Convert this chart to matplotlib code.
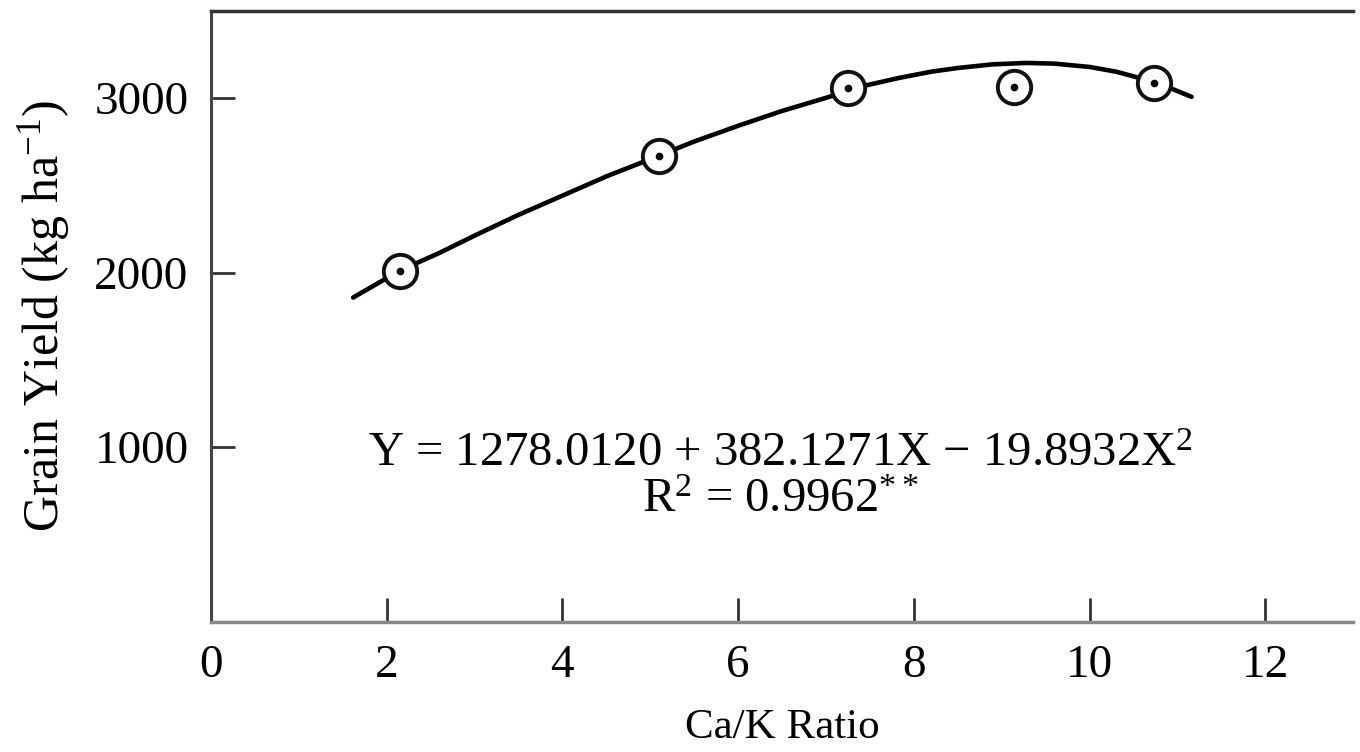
import numpy as np
import matplotlib
matplotlib.use("Agg")
from matplotlib import pyplot as plt

plt.rcParams['font.family'] = ['Liberation Serif', 'DejaVu Serif']
plt.rcParams['mathtext.fontset'] = 'custom'
plt.rcParams['mathtext.rm'] = 'Liberation Serif'
plt.rcParams['mathtext.it'] = 'Liberation Serif'

# observed points
ratio = [2.15, 5.10, 7.25, 9.14, 10.73]
grain_yield = [2010, 2669, 3055, 3063, 3086]

# fitted curve
curve_x = [1.62, 2.15, 2.6, 3.0, 3.5, 4.0, 4.5, 5.1, 5.5, 6.0, 6.5, 7.0, 7.4,
           7.83, 8.2, 8.5, 8.9, 9.28, 9.6, 10.0, 10.3, 10.48, 10.8, 11.16]
curve_y = [1857, 2011, 2112, 2211, 2330, 2440, 2550, 2669, 2750, 2840, 2925, 3000, 3065,
           3114, 3150, 3171, 3192, 3200, 3196, 3177, 3150, 3126, 3080, 3006]

xticks = [0, 2, 4, 6, 8, 10, 12]
yticks = [1000, 2000, 3000]

fig = plt.figure(figsize=(13.6, 7.52), dpi=100)
ax = fig.add_axes([0.155, 0.173, 0.84, 0.813])

ax.plot(curve_x, curve_y, color='black', lw=3.3, solid_capstyle='round',
        solid_joinstyle='round', zorder=2)
ax.plot(ratio, grain_yield, 'o', ms=24, mfc='white', mec='#111111', mew=2.8, zorder=3)
ax.plot(ratio, grain_yield, 'o', ms=4.5, color='black', zorder=4)

ax.set_xlim(0, 13)
ax.set_ylim(0, 3500)
ax.set_xticks(xticks)
ax.set_yticks(yticks)
ax.tick_params(direction='in', length=17, width=2, color='#333333',
               labelsize=34, pad=16)

ax.spines['right'].set_visible(False)
ax.spines['top'].set_linewidth(2.5)
ax.spines['top'].set_color('#333333')
ax.spines['left'].set_linewidth(2.2)
ax.spines['left'].set_color('#444444')
ax.spines['bottom'].set_linewidth(2.5)
ax.spines['bottom'].set_color('#888888')

ax.set_xlabel('Ca/K Ratio', fontsize=31, labelpad=16)
ax.set_ylabel('Grain Yield (kg ha$^{-1}$)', fontsize=36, labelpad=16)

ax.text(6.48, 960, 'Y = 1278.0120 + 382.1271X \u2212 19.8932X$^{2}$',
        fontsize=35, ha='center', va='center')
ax.text(6.48, 700, 'R$^{2}$ = 0.9962$^{**}$', fontsize=35, ha='center', va='center')

fig.savefig('out.png', dpi=100)
